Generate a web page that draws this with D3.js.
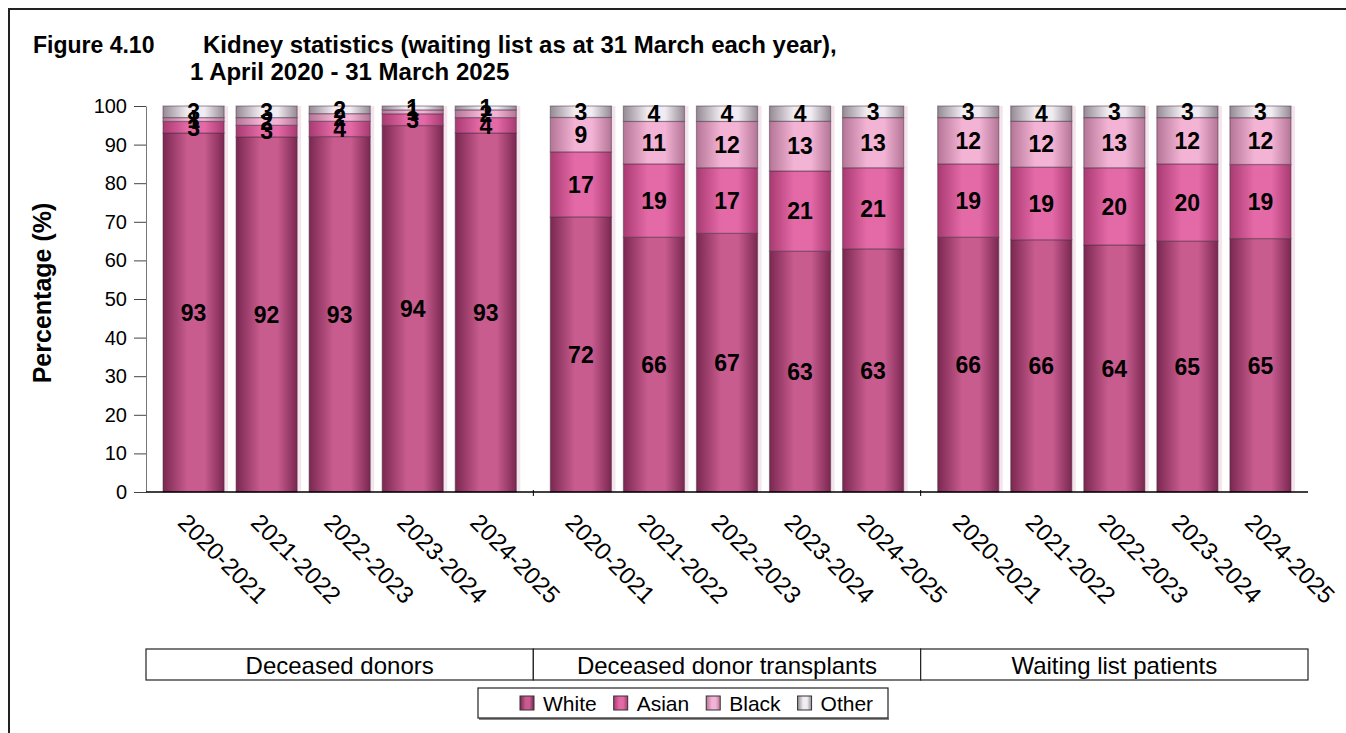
<!DOCTYPE html>
<html>
<head>
<meta charset="utf-8">
<script src="https://cdn.jsdelivr.net/npm/d3@7"></script>
<style>
  body { margin: 0; background: #fff; }
  text { font-family: Arial, "Liberation Sans", sans-serif; fill: #000; }
</style>
</head>
<body>
<script>
// chart data
var groups = ["Deceased donors", "Deceased donor transplants", "Waiting list patients"];
var years = ["2020-2021", "2021-2022", "2022-2023", "2023-2024", "2024-2025"];
var series = ["White", "Asian", "Black", "Other"];
var white = [93, 92, 93, 94, 93, 72, 66, 67, 63, 63, 66, 66, 64, 65, 65];
var asian = [3, 3, 4, 3, 4, 17, 19, 17, 21, 21, 19, 19, 20, 20, 19];
var black = [1, 2, 2, 1, 2, 9, 11, 12, 13, 13, 12, 12, 13, 12, 12];
var other = [3, 3, 2, 1, 1, 3, 4, 4, 4, 3, 3, 4, 3, 3, 3];
var yTicks = [0, 10, 20, 30, 40, 50, 60, 70, 80, 90, 100];

// colours for the cylinder-ish gradients: [edge, centre]
var shades = {
  White: ["#7a2750", "#c85c8f"],
  Asian: ["#a93a72", "#e46aa7"],
  Black: ["#b47596", "#f2b3d4"],
  Other: ["#958a95", "#f1ecf2"]
};

var rows = white.map(function(w, i) {
  return {
    group: groups[Math.floor(i / 5)],
    year: years[i % 5],
    White: w, Asian: asian[i], Black: black[i], Other: other[i]
  };
});

var width = 1346, height = 733;

var svg = d3.select("body").append("svg")
    .attr("width", width)
    .attr("height", height);

// outer frame
svg.append("rect")
    .attr("x", 9).attr("y", 9)
    .attr("width", width + 20).attr("height", height + 20)
    .attr("fill", "none")
    .attr("stroke", "#222")
    .attr("stroke-width", 2);

// gradients
var defs = svg.append("defs");
series.forEach(function(s) {
  var g = defs.append("linearGradient")
      .attr("id", "grad-" + s)
      .attr("x1", "0%").attr("x2", "100%")
      .attr("y1", "0%").attr("y2", "0%");
  g.append("stop").attr("offset", "0%").attr("stop-color", shades[s][0]);
  g.append("stop").attr("offset", "40%").attr("stop-color", shades[s][1]);
  g.append("stop").attr("offset", "68%").attr("stop-color", shades[s][1]);
  g.append("stop").attr("offset", "100%").attr("stop-color", shades[s][0]);
});

// title
var title = svg.append("g").attr("font-weight", "bold").style("font-size", "24px");
title.append("text").attr("x", 33).attr("y", 53).style("font-size", "23px").text("Figure 4.10");
title.append("text").attr("x", 203).attr("y", 53)
    .text("Kidney statistics (waiting list as at 31 March each year),");
title.append("text").attr("x", 190).attr("y", 80).text("1 April 2020 - 31 March 2025");

// scales
var x0 = d3.scaleBand()
    .domain(groups)
    .range([146, 1308]);

var x1 = d3.scaleBand()
    .domain(years)
    .range([0, x0.bandwidth()])
    .paddingInner(0.164)
    .paddingOuter(0.233);

var y = d3.scaleLinear()
    .domain([0, 1])
    .range([492, 106]);

// y axis
var yAxis = d3.axisLeft(y)
    .tickValues(yTicks.map(function(d) { return d / 100; }))
    .tickFormat(function(d) { return Math.round(d * 100); })
    .tickSize(12)
    .tickSizeOuter(0)
    .tickPadding(7);

var yg = svg.append("g")
    .attr("transform", "translate(146,0)")
    .call(yAxis);
yg.select(".domain").attr("stroke", "#777");
yg.selectAll(".tick line").attr("stroke", "#444");
yg.selectAll(".tick text").style("font-size", "20px").attr("font-family", "Arial, 'Liberation Sans', sans-serif");

svg.append("text")
    .attr("transform", "translate(51,293) rotate(-90)")
    .attr("text-anchor", "middle")
    .attr("font-weight", "bold")
    .style("font-size", "25px")
    .text("Percentage (%)");

// stacked bars (normalised to 100%)
var stack = d3.stack().keys(series).offset(d3.stackOffsetExpand);
var layers = stack(rows);

function barX(d) { return x0(d.data.group) + x1(d.data.year); }

// soft shadow to the right of each bar
svg.append("g").selectAll("rect")
    .data(rows)
    .enter().append("rect")
    .attr("x", function(d) { return x0(d.group) + x1(d.year) + 2; })
    .attr("y", y(1))
    .attr("width", x1.bandwidth() + 2)
    .attr("height", y(0) - y(1))
    .attr("fill", "#ecd3e0")
    .attr("opacity", 0.6);

var layerG = svg.append("g").selectAll("g")
    .data(layers)
    .enter().append("g")
    .attr("fill", function(d) { return "url(#grad-" + d.key + ")"; });

layerG.selectAll("rect")
    .data(function(d) { return d; })
    .enter().append("rect")
    .attr("x", barX)
    .attr("y", function(d) { return y(d[1]); })
    .attr("width", x1.bandwidth())
    .attr("height", function(d) { return y(d[0]) - y(d[1]); })
    .attr("stroke", "rgba(70,45,65,0.45)")
    .attr("stroke-width", 1.2);

// zero line
svg.append("line")
    .attr("x1", 146).attr("x2", 1308)
    .attr("y1", y(0)).attr("y2", y(0))
    .attr("stroke", "#000")
    .attr("stroke-width", 1.3);

// little separators between the groups
svg.append("g").selectAll("line")
    .data(groups.slice(1))
    .enter().append("line")
    .attr("x1", function(d) { return x0(d); })
    .attr("x2", function(d) { return x0(d); })
    .attr("y1", y(0) - 2).attr("y2", y(0) + 4)
    .attr("stroke", "#000");

// value labels
layers.forEach(function(layer) {
  svg.append("g").selectAll("text")
      .data(layer)
      .enter().append("text")
      .attr("x", function(d) { return barX(d) + x1.bandwidth() / 2; })
      .attr("y", function(d) { return (y(d[0]) + y(d[1])) / 2; })
      .attr("dy", "0.36em")
      .attr("text-anchor", "middle")
      .attr("font-weight", "bold")
      .style("font-size", "23px")
      .text(function(d) { return d.data[layer.key]; });
});

// rotated year labels
svg.append("g").selectAll("text")
    .data(rows)
    .enter().append("text")
    .attr("transform", function(d) {
      var cx = x0(d.group) + x1(d.year) + x1.bandwidth() / 2;
      return "translate(" + (cx - 17) + ",524) rotate(45)";
    })
    .style("font-size", "24px")
    .text(function(d) { return d.year; });

// group boxes
var gb = svg.append("g").selectAll("g")
    .data(groups)
    .enter().append("g");

gb.append("rect")
    .attr("x", function(d) { return x0(d); })
    .attr("y", 649)
    .attr("width", x0.bandwidth())
    .attr("height", 31)
    .attr("fill", "#fff")
    .attr("stroke", "#222")
    .attr("stroke-width", 1.2);

gb.append("text")
    .attr("x", function(d) { return x0(d) + x0.bandwidth() / 2; })
    .attr("y", 665)
    .attr("dy", "0.36em")
    .attr("text-anchor", "middle")
    .style("font-size", "24px")
    .text(function(d) { return d; });

// legend
var legend = svg.append("g");
legend.append("line")
    .attr("x1", 479).attr("x2", 889)
    .attr("y1", 719).attr("y2", 719)
    .attr("stroke", "#888").attr("stroke-width", 2);
legend.append("rect")
    .attr("x", 478).attr("y", 688)
    .attr("width", 410).attr("height", 30)
    .attr("fill", "#fff")
    .attr("stroke", "#222")
    .attr("stroke-width", 1.2);

var lx = 520;
series.forEach(function(s) {
  legend.append("rect")
      .attr("x", lx).attr("y", 696)
      .attr("width", 14).attr("height", 14)
      .attr("fill", "url(#grad-" + s + ")")
      .attr("stroke", "#333")
      .attr("stroke-width", 1);
  var t = legend.append("text")
      .attr("x", lx + 23).attr("y", 703)
      .attr("dy", "0.36em")
      .style("font-size", "21px")
      .text(s);
  lx = lx + 23 + t.node().getComputedTextLength() + 17;
});
</script>
</body>
</html>
